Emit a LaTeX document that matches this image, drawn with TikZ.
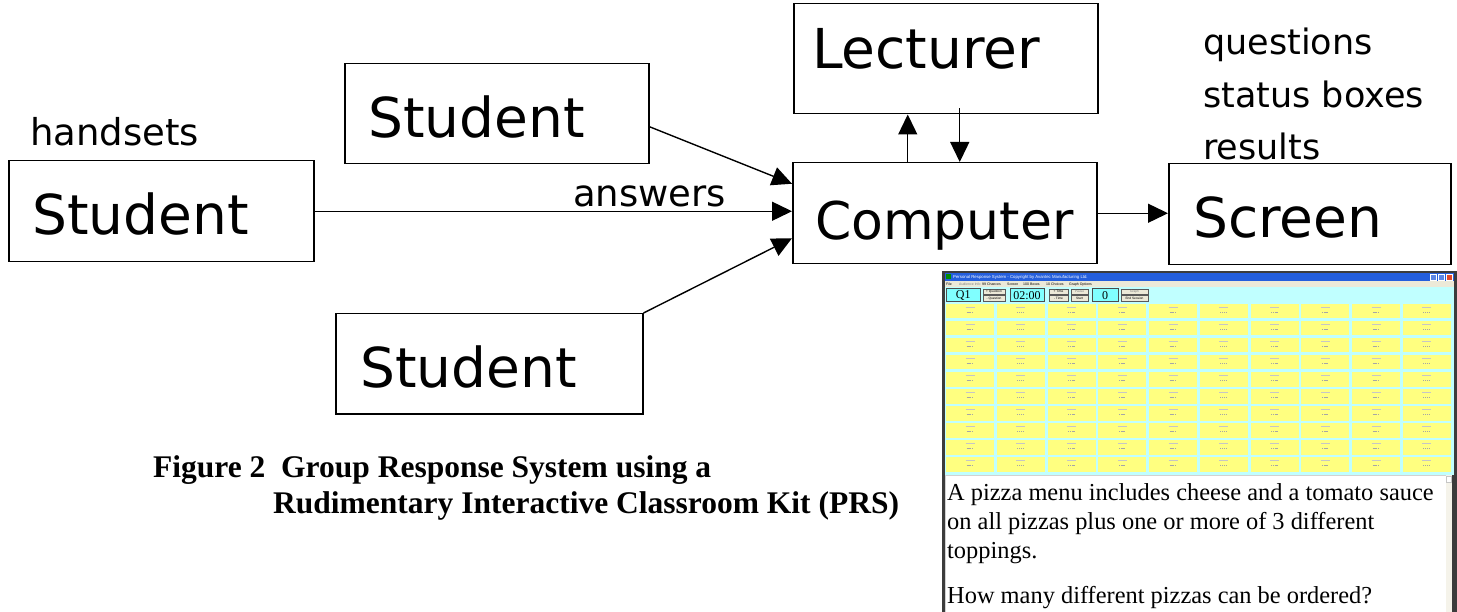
\documentclass[tikz,border=0pt]{standalone}
\usepackage{fontspec}
\setmainfont{Liberation Serif}
\newfontfamily\handfont{DejaVu Sans}
\newfontfamily\uifont{Liberation Sans}
\usetikzlibrary{arrows.meta}
\definecolor{xpblue}{HTML}{245EDC}
\definecolor{xpbeige}{HTML}{ECE9D8}
\definecolor{panelcyan}{HTML}{C0FFFF}
\definecolor{cellyellow}{HTML}{FFFF80}
\definecolor{countcyan}{HTML}{80FFFF}
\definecolor{closered}{HTML}{E0482A}
\definecolor{framegray}{HTML}{3C3C3C}
\begin{document}
\begin{tikzpicture}[x=1pt, y=-1pt,
  box/.style 2 args={draw, line width=1.5pt, anchor=north west, inner sep=0pt,
                     minimum width=#1, minimum height=#2},
  big/.style={font=\handfont\fontsize{55}{60}\selectfont, anchor=base west, inner sep=0pt},
  note/.style={font=\handfont\fontsize{37}{42}\selectfont, anchor=base west, inner sep=0pt},
  arr/.style={line width=1.4pt, -{Triangle[length=20pt,width=19pt]}},
  capt/.style={font=\bfseries\fontsize{31.5}{36}\selectfont, anchor=base west, inner sep=0pt},
  body/.style={font=\fontsize{24.4}{29}\selectfont, anchor=base west, inner sep=0pt},
  ui/.style={font=\uifont\fontsize{4.3}{5}\selectfont, inner sep=0pt},
  menu/.style={font=\uifont\fontsize{3.5}{4}\selectfont, inner sep=0pt, anchor=base west},
  tiny/.style={font=\uifont\fontsize{3.2}{4}\selectfont, inner sep=0pt},
  btn/.style={draw=gray!70!black, line width=0.4pt, fill=xpbeige},
  counter/.style={draw=gray!60!black, line width=0.5pt, fill=countcyan}]

\useasboundingbox (0,0) rectangle (1457,612);

% ---- block diagram -------------------------------------------------
\node[box={305pt}{101pt}] (st1)  at (8,160)   {};
\node[box={304pt}{100pt}] (st2)  at (344,63)  {};
\node[box={307pt}{100pt}] (st3)  at (335,313) {};
\node[box={304pt}{110pt}] (lect) at (793,3)   {};
\node[box={304pt}{101pt}] (comp) at (792,162) {};
\node[box={282pt}{101pt}] (scr)  at (1168,163) {};

\node[big] (st1-t)  at (32,235)  {Student};
\node[big] (st2-t)  at (368,138) {Student};
\node[big] (st3-t)  at (360,388) {Student};
\node[big] (lect-t) at (812,69)  {Lecturer};
\node[big, font=\handfont\fontsize{52}{58}\selectfont] (comp-t) at (815,240) {Computer};
\node[big] (scr-t)  at (1193,238) {Screen};

\node[note] (hand) at (30,146)  {handsets};
\node[note] (ans)  at (573,207) {answers};
\node[note, font=\handfont\fontsize{35}{40}\selectfont] (qs) at (1203,55)  {questions};
\node[note, font=\handfont\fontsize{35}{40}\selectfont] (sb) at (1203,108) {status boxes};
\node[note, font=\handfont\fontsize{35}{40}\selectfont] (rs) at (1203,160) {results};

\draw[arr] (st1.east) -- (st1.east -| comp.west);
\draw[arr] ([yshift=-13pt]st2.east) -- ([yshift=29.5pt]comp.west);
\draw[arr] (st3.north east) -- ([yshift=-25pt]comp.west);
\draw[arr] ([xshift=-37pt]comp.north) -- ([xshift=-37pt]comp.north |- lect.south);
\draw[arr] ([xshift=15pt,yshift=6pt]comp.north |- lect.south) -- ([xshift=15pt]comp.north);
\draw[arr] (comp.east) -- (comp.east -| scr.west);

\node[capt] (cap1) at (153,477) {Figure 2\ \ Group Response System using a};
\node[capt] (cap2) at (273,513) {Rudimentary Interactive Classroom Kit (PRS)};

% ---- PRS application window ----------------------------------------
\fill[framegray] (942,271) rectangle (1457,612);
\fill[xpblue] (945,273) rectangle (1454,281);
\fill[green!55!black] (946,274.5) rectangle (951,279.5);
\node[ui, white, anchor=west] (ttl) at (953,277)
  {Personal Response System - Copyright by Avantec Manufacturing Ltd.};
\foreach \bx in {1430,1438}
  \draw[white, line width=0.4pt, fill=xpblue!75!white] (\bx,274) rectangle ++(6.5,6);
\draw[white, line width=0.4pt, fill=closered] (1446,274) rectangle ++(6.5,6);

\fill[xpbeige] (945,281) rectangle (1454,287);
\node[menu] (m1) at (946,285.3) {File};
\node[menu, gray] (m2) at (959,285.3) {Audience Info};
\node[menu] (m3) at (982,285.3) {99 Chances};
\node[menu] (m4) at (1007,285.3) {Screen};
\node[menu] (m5) at (1023,285.3) {100 Boxes};
\node[menu] (m6) at (1046,285.3) {10 Choices};
\node[menu] (m7) at (1069,285.3) {Graph Options};

\fill[panelcyan] (945,287) rectangle (1454,475);

% toolbar
\draw[counter] (946.5,288.5) rectangle (980,301.5);
\node[font=\fontsize{12}{12}\selectfont, inner sep=0pt] (qn) at (963.2,295.3) {Q1};
\draw[btn] (983,289) rectangle (1005,294.5);
\draw[btn] (983,295.7) rectangle (1005,301.3);
\node[tiny] (b1) at (994,291.8) {+ Question};
\node[tiny] (b2) at (994,298.5) {- Question};
\draw[counter] (1010,288.5) rectangle (1044,301.5);
\node[font=\fontsize{12}{12}\selectfont, inner sep=0pt] (tm) at (1027,295.3) {02:00};
\draw[btn] (1049,289) rectangle (1068,294.5);
\draw[btn] (1049,295.7) rectangle (1068,301.3);
\node[tiny] (b3) at (1058.5,291.8) {+ Time};
\node[tiny] (b4) at (1058.5,298.5) {- Time};
\draw[btn] (1071,289) rectangle (1088,294.5);
\draw[btn] (1071,295.7) rectangle (1088,301.3);
\node[tiny, gray] (b5) at (1079.5,291.8) {Pause};
\node[tiny] (b6) at (1079.5,298.5) {Start};
\draw[counter] (1092,288.5) rectangle (1118,301.5);
\node[font=\fontsize{12}{12}\selectfont, inner sep=0pt] (cnt) at (1105,295.3) {0};
\draw[btn] (1121,289) rectangle (1148,294.5);
\draw[btn] (1121,295.7) rectangle (1148,301.3);
\node[tiny, gray] (b7) at (1134.5,291.8) {Graph};
\node[tiny] (b8) at (1134.5,298.5) {End Session};

% 10 x 10 status boxes
\foreach \i in {0,...,9}
  \foreach \j in {0,...,9} {
    \pgfmathsetmacro{\cx}{946+50.75*\i}
    \pgfmathsetmacro{\cy}{304+17*\j}
    \fill[cellyellow] (\cx,\cy) rectangle ++(48,14.5);
    \draw[gray!45, line width=0.4pt] (\cx+19.5,\cy+3.5) -- ++(9,0);
    \draw[gray!70, line width=0.6pt, dash pattern=on 1.2pt off 0.6pt]
      (\cx+20.5,\cy+8.5) -- ++(7,0);
  }

% question text area
\fill[white] (945,475) rectangle (1446,612);
\draw[gray!35, line width=0.5pt] (945.3,475.3) rectangle (1446,612);
\fill[xpbeige!55!white] (1446,475) rectangle (1452,612);
\draw[gray!45, line width=0.3pt, fill=white] (1446.5,476) rectangle (1451.5,482);

\node[body] (l1) at (947,500) {A pizza menu includes cheese and a tomato sauce};
\node[body] (l2) at (947,529) {on all pizzas plus one or more of 3 different};
\node[body] (l3) at (947,558) {toppings.};
\node[body] (l4) at (947,603) {How many different pizzas can be ordered?};
\end{tikzpicture}
\end{document}
